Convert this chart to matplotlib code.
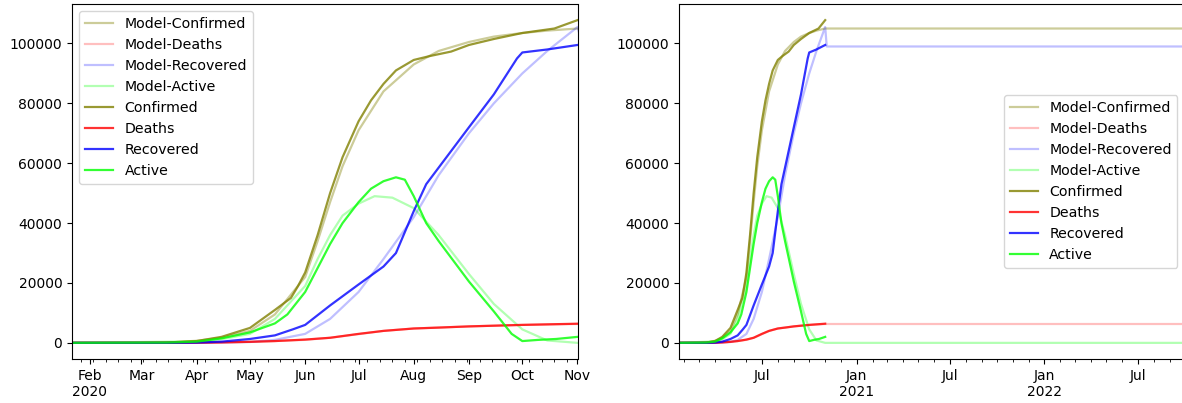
import numpy as np
import pandas as pd
import matplotlib
matplotlib.use('Agg')
import matplotlib.pyplot as plt
import matplotlib.dates as mdates

# Наблюдаемые данные
obs_conf_dates = ['2020-01-22', '2020-03-01', '2020-03-15', '2020-04-01', '2020-04-15', '2020-05-01',
                  '2020-05-15', '2020-05-24', '2020-05-28', '2020-06-01', '2020-06-08', '2020-06-15',
                  '2020-06-22', '2020-07-01', '2020-07-08', '2020-07-15', '2020-07-22', '2020-08-01',
                  '2020-08-10', '2020-08-22', '2020-09-01', '2020-09-15', '2020-10-01', '2020-10-19',
                  '2020-11-01']
obs_conf = [0, 0, 100, 600, 2000, 5000,
            11000, 15000, 19000, 23500, 36000, 50000,
            62000, 74000, 81000, 86500, 91000, 94500,
            95800, 97300, 99500, 101500, 103500, 105000,
            107800]

obs_act_dates = ['2020-01-22', '2020-03-15', '2020-04-01', '2020-04-15', '2020-05-01', '2020-05-15',
                 '2020-05-22', '2020-06-01', '2020-06-08', '2020-06-15', '2020-06-22', '2020-07-01',
                 '2020-07-08', '2020-07-15', '2020-07-22', '2020-07-27', '2020-08-01', '2020-08-08',
                 '2020-08-15', '2020-09-01', '2020-09-15', '2020-09-25', '2020-10-01', '2020-10-10',
                 '2020-10-20', '2020-11-01']
obs_act = [0, 100, 400, 1500, 3500, 6500,
           9500, 17000, 25000, 33000, 40000, 47000,
           51500, 54000, 55300, 54500, 49000, 40000,
           34000, 20500, 10500, 3000, 600, 1000,
           1300, 2000]

obs_rec_dates = ['2020-01-22', '2020-03-15', '2020-04-01', '2020-04-15', '2020-05-01', '2020-05-15',
                 '2020-05-25', '2020-06-01', '2020-06-15', '2020-07-01', '2020-07-15', '2020-07-22',
                 '2020-08-01', '2020-08-08', '2020-09-01', '2020-09-15', '2020-09-28', '2020-10-01',
                 '2020-10-15', '2020-11-01']
obs_rec = [0, 0, 100, 400, 1300, 2500,
           4500, 6000, 12500, 19500, 25500, 30000,
           44000, 53000, 72000, 83000, 95000, 97000,
           98000, 99500]

obs_dea_dates = ['2020-01-22', '2020-03-15', '2020-04-01', '2020-04-15', '2020-05-01', '2020-05-15',
                 '2020-06-01', '2020-06-15', '2020-07-01', '2020-07-15', '2020-08-01', '2020-08-15',
                 '2020-09-01', '2020-10-01', '2020-11-01']
obs_dea = [0, 0, 50, 150, 350, 600,
           1100, 1700, 3000, 4000, 4800, 5100,
           5500, 6000, 6400]

# Модель (продлена до конца 2022-09)
mod_conf_dates = ['2020-01-22', '2020-03-15', '2020-04-01', '2020-04-15', '2020-05-01', '2020-05-15',
                  '2020-06-01', '2020-06-08', '2020-06-15', '2020-06-22', '2020-07-01', '2020-07-15',
                  '2020-08-01', '2020-08-15', '2020-09-01', '2020-09-15', '2020-10-01', '2020-10-15',
                  '2020-11-01', '2022-09-30']
mod_conf = [0, 100, 700, 1700, 4000, 9500,
            22000, 34000, 47000, 59000, 71000, 84000,
            93000, 97500, 100500, 102300, 103500, 104300,
            105000, 105000]

mod_rec_dates = ['2020-01-22', '2020-04-01', '2020-05-01', '2020-05-15', '2020-06-01', '2020-06-15',
                 '2020-07-01', '2020-07-15', '2020-08-01', '2020-08-15', '2020-09-01', '2020-09-15',
                 '2020-10-01', '2020-10-15', '2020-11-01', '2020-11-04', '2022-09-30']
mod_rec = [0, 0, 300, 1000, 3000, 8000,
           17000, 28000, 42000, 56000, 70000, 80000,
           90000, 97500, 105500, 99000, 99000]

mod_act_dates = ['2020-01-22', '2020-04-01', '2020-04-15', '2020-05-01', '2020-05-15', '2020-06-01',
                 '2020-06-08', '2020-06-15', '2020-06-22', '2020-07-01', '2020-07-10', '2020-07-20',
                 '2020-08-01', '2020-08-15', '2020-09-01', '2020-09-15', '2020-10-01', '2020-10-15',
                 '2020-11-01', '2022-09-30']
mod_act = [0, 500, 1200, 3000, 8000, 19000,
           28000, 36000, 42500, 46500, 49000, 48500,
           45000, 36000, 23000, 13000, 4500, 800,
           0, 0]

mod_dea_dates = ['2020-01-22', '2020-04-01', '2020-05-01', '2020-06-01', '2020-06-15', '2020-07-01',
                 '2020-07-15', '2020-08-01', '2020-09-01', '2020-10-01', '2020-11-01', '2022-09-30']
mod_dea = [0, 50, 300, 1000, 1700, 2900,
           4000, 4800, 5500, 6000, 6300, 6300]

left_ticks = ['2020-02-01', '2020-03-01', '2020-04-01', '2020-05-01', '2020-06-01',
              '2020-07-01', '2020-08-01', '2020-09-01', '2020-10-01', '2020-11-01']
left_labels = ['Feb\n2020', 'Mar', 'Apr', 'May', 'Jun', 'Jul', 'Aug', 'Sep', 'Oct', 'Nov']
right_ticks = ['2020-07-01', '2021-01-01', '2021-07-01', '2022-01-01', '2022-07-01']
right_labels = ['Jul', 'Jan\n2021', 'Jul', 'Jan\n2022', 'Jul']

d = pd.to_datetime

fig = plt.figure(figsize=(11.82, 4.03), dpi=100)
W, H = 1182, 403
ax1 = fig.add_axes([72 / W, 44 / H, 505.5 / W, 355 / H])
ax2 = fig.add_axes([679 / W, 44 / H, 505.5 / W, 355 / H])

for ax in (ax1, ax2):
    ax.plot(d(mod_conf_dates), mod_conf, color='olive', alpha=0.4, lw=1.6, label='Model-Confirmed')
    ax.plot(d(mod_dea_dates), mod_dea, color='red', alpha=0.25, lw=1.6, label='Model-Deaths')
    ax.plot(d(mod_rec_dates), mod_rec, color='blue', alpha=0.25, lw=1.6, label='Model-Recovered')
    ax.plot(d(mod_act_dates), mod_act, color='lime', alpha=0.3, lw=1.6, label='Model-Active')
    ax.plot(d(obs_conf_dates), obs_conf, color='olive', alpha=0.8, lw=1.6, label='Confirmed')
    ax.plot(d(obs_dea_dates), obs_dea, color='red', alpha=0.8, lw=1.6, label='Deaths')
    ax.plot(d(obs_rec_dates), obs_rec, color='blue', alpha=0.8, lw=1.6, label='Recovered')
    ax.plot(d(obs_act_dates), obs_act, color='lime', alpha=0.8, lw=1.6, label='Active')
    ax.tick_params(labelsize=10)

ax1.set_xlim(d('2020-01-22'), d('2020-11-01'))
ax2.set_xlim(d('2020-01-22'), d('2022-09-30'))

ax1.set_xticks(d(left_ticks))
ax1.set_xticklabels(left_labels)
ax1.xaxis.set_minor_locator(mdates.WeekdayLocator(byweekday=mdates.MO))
ax2.set_xticks(d(right_ticks))
ax2.set_xticklabels(right_labels)
ax2.xaxis.set_minor_locator(mdates.MonthLocator())

ax1.legend(loc='upper left', fontsize=10.2)
ax2.legend(loc='center right', fontsize=10.2)

fig.savefig('out.png', dpi=100)
